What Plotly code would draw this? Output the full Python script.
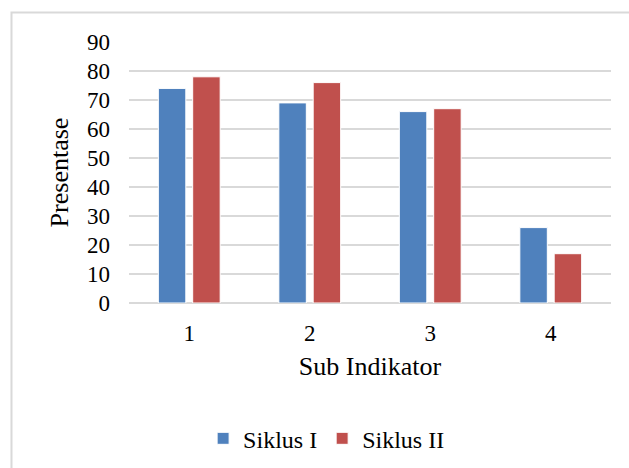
import plotly.graph_objects as go

categories = ["1", "2", "3", "4"]
siklus1 = [74, 69, 66, 26]
siklus2 = [78, 76, 67, 17]
series_names = ["Siklus I", "Siklus II"]
colors = ["#4F81BD", "#C0504D"]
y_ticks = [0, 10, 20, 30, 40, 50, 60, 70, 80, 90]

FONT = "Liberation Serif, Times New Roman, serif"

fig = go.Figure()
for name, vals, col in zip(series_names, [siklus1, siklus2], colors):
    fig.add_trace(go.Bar(
        x=categories, y=vals, name=name,
        marker=dict(color=col, line=dict(color="white", width=1)),
    ))

fig.update_layout(
    width=629, height=468,
    margin=dict(l=129, r=18, t=42, b=165, autoexpand=False),
    paper_bgcolor="white", plot_bgcolor="white",
    barmode="group", bargap=0.43, bargroupgap=0.2,
    font=dict(family=FONT, color="black", size=22),
    showlegend=True,
    legend=dict(orientation="h", x=0.41, xanchor="center", y=-0.52, yanchor="middle",
                font=dict(size=24, family=FONT), itemwidth=30, traceorder="normal"),
    xaxis=dict(
        type="category", showgrid=False, ticks="", showline=False, automargin=False,
        tickfont=dict(size=23), ticklabelstandoff=14,
        title=dict(text="Sub Indikator", font=dict(size=26), standoff=11),
    ),
    yaxis=dict(
        range=[0, 90], tickvals=y_ticks, showgrid=True, gridcolor="#d9d9d9", gridwidth=1.5,
        zeroline=True, zerolinecolor="#d9d9d9", zerolinewidth=1.5, automargin=False,
        ticks="", tickfont=dict(size=23), ticklabelstandoff=18,
        title=dict(text="Presentase", font=dict(size=26), standoff=10),
    ),
    shapes=[dict(type="rect", xref="paper", yref="paper",
                 x0=-0.2438, x1=1.2, y0=-0.9, y1=1.113,
                 line=dict(color="#d9d9d9", width=2), fillcolor="rgba(0,0,0,0)", layer="below")],
)

fig.write_html("out.html", config={"displayModeBar": False},
               post_script="document.body.style.margin='0';document.body.style.padding='0';")
